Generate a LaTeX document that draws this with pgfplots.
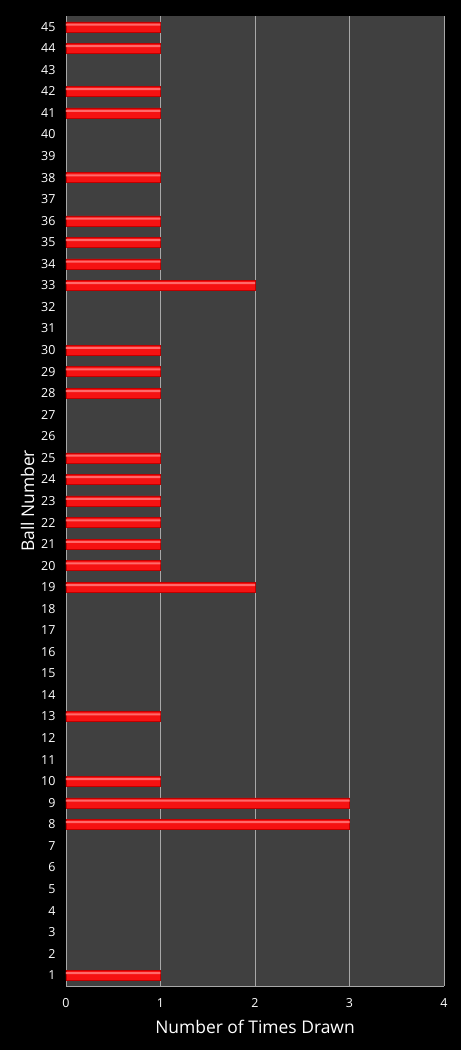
\documentclass[border=0pt]{standalone}
\usepackage{fontspec}
\setmainfont{Open Sans}
\usepackage{pgfplots}
\pgfplotsset{compat=1.18}

\definecolor{plotbg}{HTML}{404040}
\definecolor{gridc}{HTML}{A8A8A8}
\definecolor{barred}{HTML}{F51212}
\definecolor{bardark}{HTML}{C00000}
\definecolor{barlight}{HTML}{FF6A6A}

\begin{document}
\begin{tikzpicture}[x=1bp,y=1bp]
% page background
\fill[black] (-66,-64) rectangle (395,986);
\begin{axis}[
    at={(0,0)}, anchor=south west,
    scale only axis,
    width=378bp, height=970bp,
    xbar,
    bar width=10bp,
    xmin=0, xmax=4,
    ymin=0.5, ymax=45.5,
    xtick={0,1,2,3,4},
    ytick={1,...,45},
    axis background/.style={fill=plotbg},
    axis x line=bottom, axis y line=left,
    axis line style={-, draw=gridc, line width=0.8pt},
    xmajorgrids,
    grid style={draw=gridc, line width=0.8pt},
    major tick length=0pt,
    tick label style={white, font=\fontsize{12.5}{14}\selectfont},
    xticklabel style={yshift=-9bp},
    yticklabel style={xshift=-7bp},
    xlabel={Number of Times Drawn},
    ylabel={Ball Number},
    label style={white, font=\fontsize{17.5}{20}\selectfont},
    xlabel style={yshift=-6bp},
    ylabel style={yshift=0bp},
    /pgf/number format/assume math mode=true,
]
% bar body
\addplot[draw=bardark, line width=0.5pt, fill=barred, bar shift=0bp]
coordinates {
    (1,1) (3,8) (3,9) (1,10) (1,13) (2,19) (1,20) (1,21) (1,22) (1,23)
    (1,24) (1,25) (1,28) (1,29) (1,30) (2,33) (1,34) (1,35) (1,36)
    (1,38) (1,41) (1,42) (1,44) (1,45)
};
% highlight stripe (same counts)
\addplot[draw=none, fill=barlight, bar width=2bp, bar shift=2.2bp]
coordinates {
    (1,1) (3,8) (3,9) (1,10) (1,13) (2,19) (1,20) (1,21) (1,22) (1,23)
    (1,24) (1,25) (1,28) (1,29) (1,30) (2,33) (1,34) (1,35) (1,36)
    (1,38) (1,41) (1,42) (1,44) (1,45)
};
\end{axis}
\end{tikzpicture}
\end{document}
